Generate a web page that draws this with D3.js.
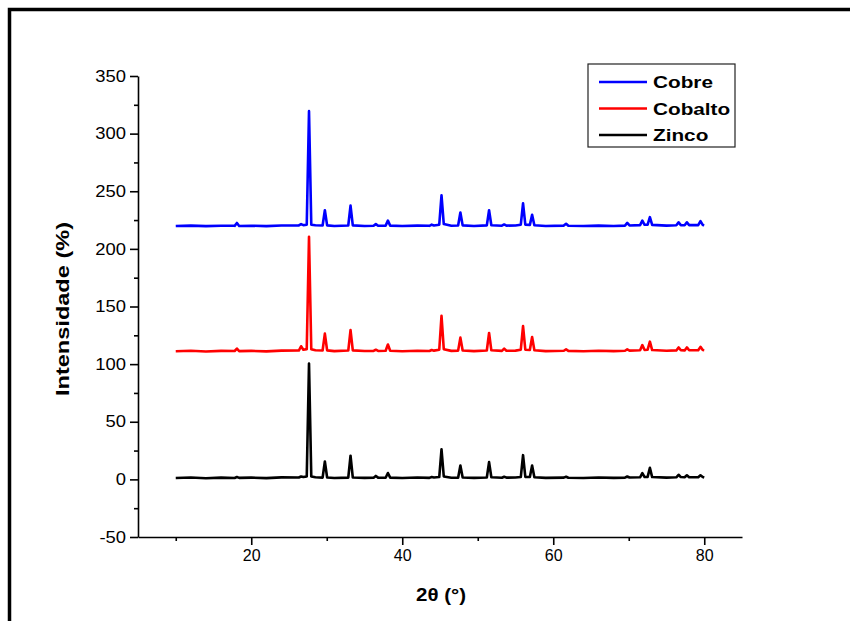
<!DOCTYPE html>
<html>
<head>
<meta charset="utf-8">
<script src="https://cdn.jsdelivr.net/npm/d3@7"></script>
<style>
  body { margin: 0; background: #fff; }
  svg { display: block; font-family: "Liberation Sans", Arial, sans-serif; }
</style>
</head>
<body>
<svg id="chart" width="850" height="621"></svg>
<script>
// 2θ positions shared by all three patterns (baseline points + peak triplets)
const twoTheta = [10, 12, 14, 16, 17.8, 18.1, 18.4, 20, 22, 24, 26.3, 26.6, 26.9, 27.35, 27.65, 27.95,
  28.5, 29.45, 29.75, 30.05, 31, 32.85, 33.15, 33.45, 35, 36.2, 36.5, 36.8, 37.8, 38.1, 38.4, 40, 42,
  43.6, 43.9, 44.2, 44.9, 45.2, 45.5, 46.5, 47.4, 47.7, 48.0, 49.5, 51.2, 51.5, 51.8, 53.2, 53.5, 53.8,
  55.0, 55.7, 56.0, 56.3, 56.9, 57.2, 57.5, 59, 61.4, 61.7, 62.0, 64, 66, 68, 69.5, 69.8, 70.1, 71.5,
  71.8, 72.1, 72.5, 72.8, 73.1, 75, 76.3, 76.6, 76.9, 77.4, 77.7, 78.0, 79.2, 79.5, 79.8, 80];

const zinco = [1.2, 1.6, 1.0, 1.5, 1.2, 2.0, 1.3, 1.5, 1.1, 1.7, 1.6, 2.5, 2.0, 2.5, 100.5, 2.5,
  1.8, 1.5, 15.5, 1.6, 1.2, 1.5, 20.5, 1.6, 1.3, 1.4, 3.0, 1.5, 1.4, 5.5, 1.5, 1.2, 1.6,
  1.3, 2.0, 1.6, 2.0, 26.0, 2.5, 1.4, 1.5, 12.0, 1.6, 1.3, 1.6, 15.0, 1.8, 1.4, 2.3, 1.5,
  1.6, 2.0, 21.0, 2.2, 2.0, 12.0, 1.8, 1.3, 1.5, 2.3, 1.4, 1.2, 1.6, 1.3, 1.5, 2.5, 1.6, 1.8,
  5.5, 2.0, 2.2, 10.0, 2.0, 1.5, 1.8, 4.0, 2.0, 1.8, 3.5, 1.8, 1.8, 3.5, 2.0, 1.6];

const cobalto = [111.2, 111.6, 111.0, 111.5, 111.4, 113.5, 111.3, 111.5, 111.1, 111.7, 111.8, 115.5, 112.5, 113.0, 210.5, 113.0,
  112.0, 111.8, 126.5, 111.9, 111.3, 111.8, 129.5, 111.9, 111.4, 111.5, 112.5, 111.4, 111.6, 117.0, 111.6, 111.2, 111.6,
  111.4, 112.3, 111.7, 112.5, 142.0, 113.0, 111.5, 111.7, 123.0, 111.8, 111.3, 111.8, 127.0, 112.0, 111.5, 113.5, 111.6,
  111.7, 112.5, 133.0, 112.5, 112.3, 123.5, 112.0, 111.3, 111.6, 112.8, 111.5, 111.2, 111.6, 111.3, 111.6, 112.8, 111.7, 112.0,
  116.5, 112.3, 112.5, 119.5, 112.2, 111.6, 111.9, 114.5, 112.0, 111.9, 114.5, 112.0, 112.0, 115.0, 112.2, 112.0];

const cobre = [219.8, 220.2, 219.7, 220.1, 220.0, 222.5, 219.9, 220.1, 219.7, 220.3, 220.3, 221.5, 220.6, 221.0, 319.5, 221.0,
  220.5, 220.3, 233.5, 220.4, 219.8, 220.3, 237.5, 220.4, 219.9, 220.0, 221.5, 220.0, 220.2, 224.5, 220.2, 219.8, 220.2,
  220.0, 221.0, 220.3, 221.0, 246.5, 221.5, 220.1, 220.3, 231.5, 220.4, 219.9, 220.4, 233.5, 220.5, 220.1, 221.2, 220.2,
  220.3, 221.0, 239.5, 221.0, 220.8, 229.5, 220.5, 219.9, 220.2, 221.8, 220.1, 219.8, 220.2, 219.9, 220.2, 222.5, 220.3, 220.6,
  224.5, 220.9, 221.0, 227.5, 220.8, 220.2, 220.5, 223.0, 220.6, 220.5, 223.0, 220.6, 220.6, 224.0, 220.8, 220.5];

const seriesNames = ["Cobre", "Cobalto", "Zinco"];
const seriesColors = ["#0000ff", "#ff0000", "#000000"];
const seriesValues = [cobre, cobalto, zinco];

const xTicks = [20, 40, 60, 80];
const xMinorTicks = [10, 30, 50, 70];
const yTicks = [-50, 0, 50, 100, 150, 200, 250, 300, 350];
const yMinorTicks = [-25, 25, 75, 125, 175, 225, 275, 325];

const svg = d3.select("#chart");

// stretch a text element horizontally by a factor
function widen(sel, factor) {
  sel.each(function () {
    const w = this.getComputedTextLength();
    d3.select(this).attr("textLength", w * factor).attr("lengthAdjust", "spacingAndGlyphs");
  });
}

// outer frame (runs off the right and bottom edges)
svg.append("rect")
  .attr("x", 9.5).attr("y", 9.5)
  .attr("width", 900).attr("height", 700)
  .attr("fill", "none")
  .attr("stroke", "#000")
  .attr("stroke-width", 3.5);

const plot = { left: 138, right: 742, top: 76, bottom: 537 };

const x = d3.scaleLinear().domain([5, 85]).range([plot.left, plot.right]);
const y = d3.scaleLinear().domain([-50, 350]).range([plot.bottom, plot.top]);

// data lines, drawn zinco first so cobre sits on top
const line = d3.line()
  .x((d, i) => x(twoTheta[i]))
  .y(d => y(d));

for (let s = seriesValues.length - 1; s >= 0; s--) {
  svg.append("path")
    .datum(seriesValues[s])
    .attr("fill", "none")
    .attr("stroke", seriesColors[s])
    .attr("stroke-width", 2.6)
    .attr("stroke-linejoin", "round")
    .attr("d", line);
}

// x axis
const xAxis = svg.append("g").attr("transform", `translate(0,${plot.bottom})`);
xAxis.call(d3.axisBottom(x).tickValues(xTicks).tickSize(8).tickSizeOuter(0).tickPadding(5)
  .tickFormat(d => String(d)));
xAxis.append("g")
  .call(d3.axisBottom(x).tickValues(xMinorTicks).tickSize(4).tickFormat(""))
  .select(".domain").remove();

// y axis
const yAxis = svg.append("g").attr("transform", `translate(${plot.left},0)`);
yAxis.call(d3.axisLeft(y).tickValues(yTicks).tickSize(8).tickSizeOuter(0).tickPadding(4)
  .tickFormat(d => String(d)));
yAxis.append("g")
  .call(d3.axisLeft(y).tickValues(yMinorTicks).tickSize(4).tickFormat(""))
  .select(".domain").remove();

svg.selectAll(".domain").attr("stroke", "#000").attr("stroke-width", 1.6);
svg.selectAll(".tick line").attr("stroke", "#000").attr("stroke-width", 1.6);
svg.selectAll(".tick text")
  .attr("font-family", "'Liberation Sans', Arial, sans-serif")
  .attr("font-size", 16)
  .attr("fill", "#000");
widen(yAxis.selectAll(".tick text"), 1.15);

// axis titles
svg.append("text")
  .attr("x", 441).attr("y", 601)
  .attr("text-anchor", "middle")
  .attr("font-size", 18).attr("font-weight", "bold")
  .attr("textLength", 50).attr("lengthAdjust", "spacingAndGlyphs")
  .text("2θ (°)");

svg.append("text")
  .attr("transform", `translate(69,309) rotate(-90)`)
  .attr("text-anchor", "middle")
  .attr("font-size", 18).attr("font-weight", "bold")
  .attr("textLength", 174).attr("lengthAdjust", "spacingAndGlyphs")
  .text("Intensidade (%)");

// legend
const legend = svg.append("g").attr("transform", "translate(588,64)");
legend.append("rect")
  .attr("width", 147).attr("height", 83)
  .attr("fill", "#fff")
  .attr("stroke", "#222")
  .attr("stroke-width", 1.2);

seriesNames.forEach((name, i) => {
  const row = legend.append("g").attr("transform", `translate(0,${18 + i * 26.5})`);
  row.append("line")
    .attr("x1", 11).attr("x2", 59)
    .attr("stroke", seriesColors[i])
    .attr("stroke-width", 2.6);
  row.append("text")
    .attr("x", 65).attr("y", 6)
    .attr("font-size", 17).attr("font-weight", "bold")
    .text(name)
    .call(widen, 1.22);
});
</script>
</body>
</html>
